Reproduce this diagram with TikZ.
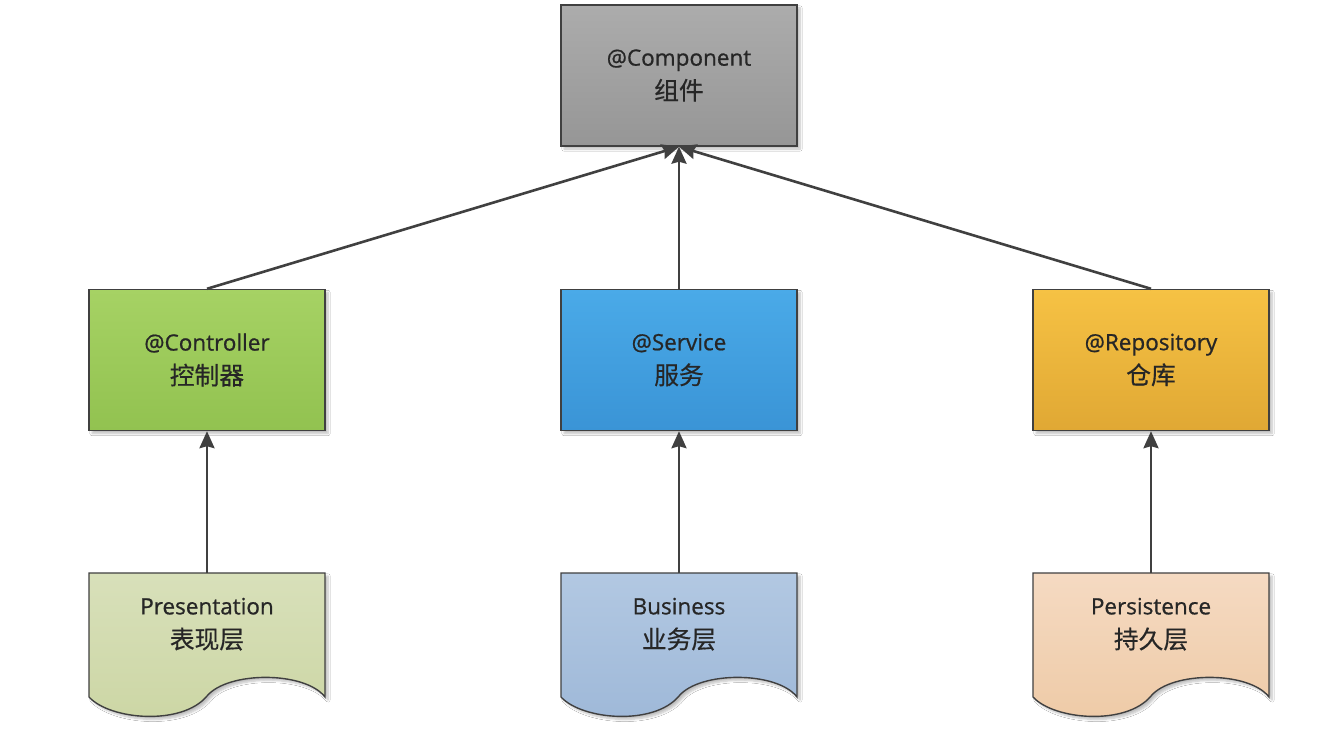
\documentclass[tikz,border=0pt]{standalone}
\usepackage{fontspec}
\setmainfont{Open Sans}[RawFeature={embolden=0.8}]
\newfontfamily\cjk{Noto Sans CJK SC}[Scale=1.1,RawFeature={embolden=0.5}]
\usetikzlibrary{arrows.meta,shadows.blur}

\definecolor{edge}{HTML}{404040}
\definecolor{ink}{HTML}{262626}

\tikzset{
  soft/.style={blur shadow={shadow xshift=3pt,shadow yshift=-3pt,shadow blur steps=6,shadow opacity=25}},
  box/.style={draw=edge,line width=1.4pt,soft,minimum width=236pt,minimum height=141pt,
    align=center,text=ink,font=\fontsize{22.5}{34}\selectfont},
  doclabel/.style={minimum width=236pt,minimum height=102pt,anchor=north,
    align=center,text=ink,font=\fontsize{22.5}{34}\selectfont},
  link/.style={draw=edge,line width=2.6pt,-{Stealth[length=17pt,width=15pt,inset=2pt]}},
  docshape/.pic={
    \path[draw=edge,line width=1.4pt,soft,pic actions]
      (-118,0) -- (118,0) -- (118,124)
      .. controls (98,98) and (21,98) .. (0,123)
      .. controls (-25,153) and (-97,147) .. (-118,124) -- cycle;
  }
}

\begin{document}
\begin{tikzpicture}[x=1pt,y=-1pt]
\useasboundingbox[fill=white] (0,0) rectangle (1328,754);

% top level
\node[box,top color={rgb,255:red,172;green,172;blue,172},bottom color={rgb,255:red,150;green,150;blue,150}]
  (comp) at (679,75.5) {@Component\\\cjk 组件};

% stereotype annotations
\node[box,top color={rgb,255:red,166;green,210;blue,100},bottom color={rgb,255:red,146;green,194;blue,80}]
  (ctrl) at (207,360) {@Controller\\\cjk 控制器};
\node[box,top color={rgb,255:red,74;green,170;blue,232},bottom color={rgb,255:red,58;green,148;blue,214}]
  (serv) at (679,360) {@Service\\\cjk 服务};
\node[box,top color={rgb,255:red,246;green,194;blue,68},bottom color={rgb,255:red,224;green,168;blue,52}]
  (repo) at (1151,360) {@Repository\\\cjk 仓库};

% layer documents
\pic[top color={rgb,255:red,216;green,224;blue,186},bottom color={rgb,255:red,204;green,214;blue,164}] at (207,573) {docshape};
\pic[top color={rgb,255:red,178;green,200;blue,226},bottom color={rgb,255:red,158;green,184;blue,216}] at (679,573) {docshape};
\pic[top color={rgb,255:red,245;green,218;blue,194},bottom color={rgb,255:red,238;green,202;blue,166}] at (1151,573) {docshape};

\node[doclabel] (pres) at (207,573) {Presentation\\\cjk 表现层};
\node[doclabel] (biz)  at (679,573) {Business\\\cjk 业务层};
\node[doclabel] (pers) at (1151,573) {Persistence\\\cjk 持久层};

% connectors
\draw[link] (ctrl.north) -- (comp.south);
\draw[link] (serv.north) -- (comp.south);
\draw[link] (repo.north) -- (comp.south);
\draw[link] (pres.north) -- (ctrl.south);
\draw[link] (biz.north)  -- (serv.south);
\draw[link] (pers.north) -- (repo.south);
\end{tikzpicture}
\end{document}
